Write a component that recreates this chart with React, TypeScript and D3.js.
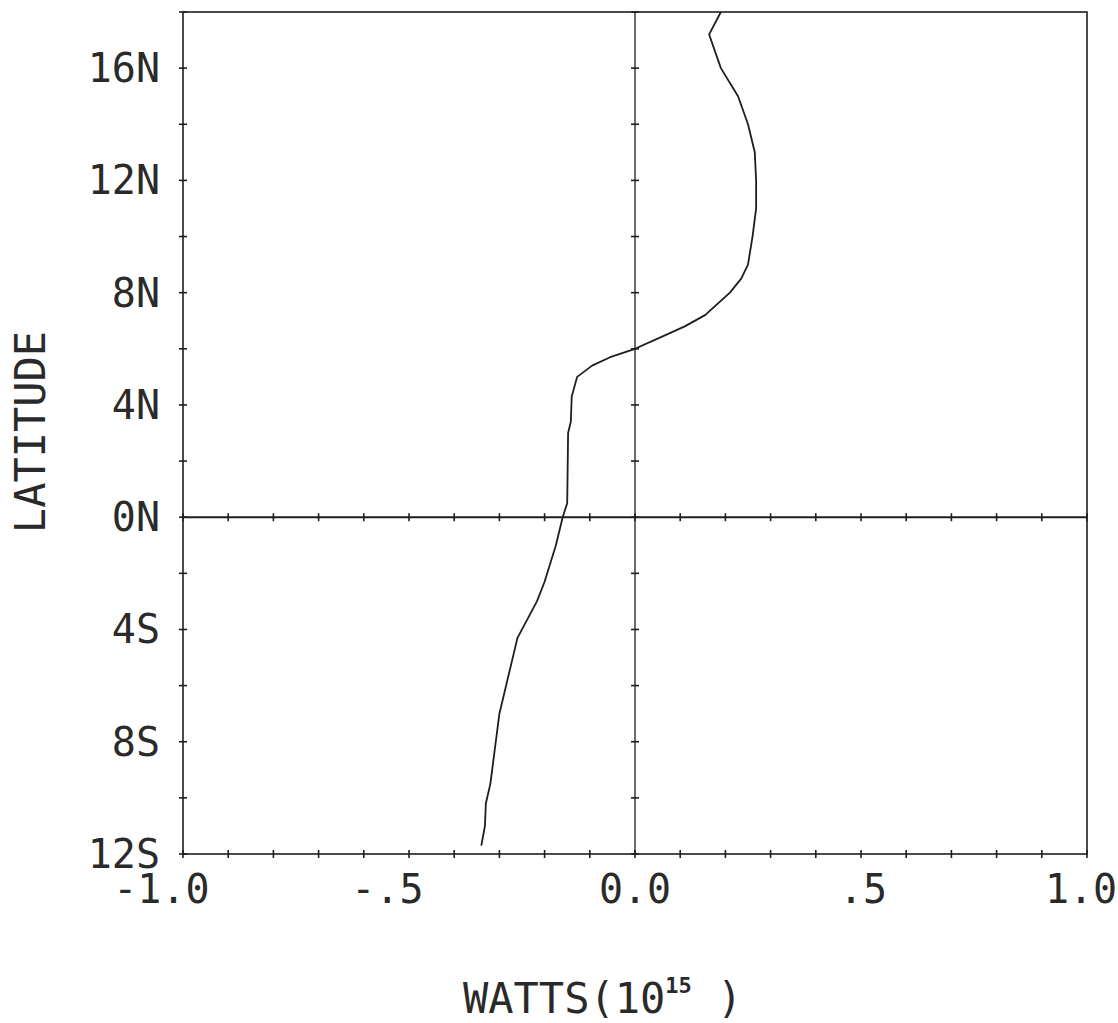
import React from "react";
import * as d3 from "d3";

// latitude (deg, + = N) and heat transport (10^15 W)
const lats = [18, 17.2, 16, 15, 14, 13, 12, 11, 10, 9, 8.5, 8, 7.2, 6.8, 6.4, 6, 5.7, 5.4, 5, 4.3, 3.4, 3, 0.5, 0, -1, -2.3, -3, -4.3, -7, -9.5, -10.2, -11, -11.7];
const watts = [0.19, 0.164, 0.19, 0.228, 0.25, 0.265, 0.268, 0.268, 0.26, 0.25, 0.235, 0.21, 0.155, 0.11, 0.055, 0, -0.055, -0.095, -0.128, -0.14, -0.142, -0.148, -0.15, -0.16, -0.175, -0.2, -0.217, -0.26, -0.3, -0.32, -0.33, -0.332, -0.34];

const latLabelVals = [-12, -8, -4, 0, 4, 8, 12, 16];
const latLabels = ["12S", "8S", "4S", "0N", "4N", "8N", "12N", "16N"];
const xLabelVals = [-1, -0.5, 0, 0.5, 1];
const xLabels = ["-1.0", "-.5", "0.0", ".5", "1.0"];

const width = 1118,
  height = 1023;
const left = 183,
  right = 1087,
  top = 12,
  bottom = 854;

const ink = "#1e1e1e";
const textInk = "#2a2a2a";
const font = "'DejaVu Sans Mono', monospace";
const charW = 24; // advance of one glyph at fontSize 40

export default function App() {
  const x = d3.scaleLinear().domain([-1, 1]).range([left, right]);
  const y = d3.scaleLinear().domain([-12, 18]).range([bottom, top]);

  const pts = lats.map((l, i) => [watts[i], l] as [number, number]);
  const line = d3
    .line<[number, number]>()
    .x(d => x(d[0]))
    .y(d => y(d[1]));

  const xTicks = d3.range(-10, 11).map(v => v / 10);
  const yTicks = d3.range(-12, 19, 2);

  const tl = 4; // half length of the small cross ticks

  return (
    <div style={{ position: "absolute", left: 0, top: 0 }}>
      <svg width={width} height={height} style={{ background: "white", display: "block" }}>
        <g stroke={ink} strokeWidth={1.6} fill="none">
          <rect x={left} y={top} width={right - left} height={bottom - top} />
          <line x1={left} x2={right} y1={y(0)} y2={y(0)} strokeWidth={2} />
          <line x1={x(0)} x2={x(0)} y1={top} y2={bottom} strokeWidth={1.3} />
          {xTicks.map(v => (
            <g key={"xt" + v}>
              <line x1={x(v)} x2={x(v)} y1={bottom - tl} y2={bottom + tl} />
              <line x1={x(v)} x2={x(v)} y1={y(0) - tl} y2={y(0) + tl} />
            </g>
          ))}
          {yTicks.map(v => (
            <g key={"yt" + v}>
              <line x1={left - tl} x2={left + tl} y1={y(v)} y2={y(v)} />
              <line x1={x(0) - tl} x2={x(0) + tl} y1={y(v)} y2={y(v)} />
            </g>
          ))}
          <path d={line(pts) || ""} strokeWidth={1.8} strokeLinejoin="round" />
        </g>

        <g fill={textInk} fontFamily={font} fontSize={40}>
          {latLabelVals.map((v, i) => (
            <text key={"yl" + v} x={160} y={y(v)} dy="0.35em" textAnchor="end">
              {latLabels[i]}
            </text>
          ))}
          {xLabelVals.map((v, i) => (
            <text
              key={"xl" + v}
              x={x(v)}
              dx={v < 0 ? -charW * 0.9 : v > 0 && v < 1 ? 2 : v === 1 ? -6 : 0}
              y={903}
              textAnchor="middle"
            >
              {xLabels[i]}
            </text>
          ))}
        </g>

        <text
          fill={textInk}
          fontFamily={font}
          fontSize={42}
          textAnchor="middle"
          transform={`translate(45, 432) rotate(-90)`}
        >
          LATITUDE
        </text>

        <text fill={textInk} fontFamily={font} fontSize={42} x={463} y={1013}>
          WATTS(10
          <tspan fontSize={22} dy={-20} fontWeight="bold">15</tspan>
          <tspan dy={20}> )</tspan>
        </text>
      </svg>
    </div>
  );
}
